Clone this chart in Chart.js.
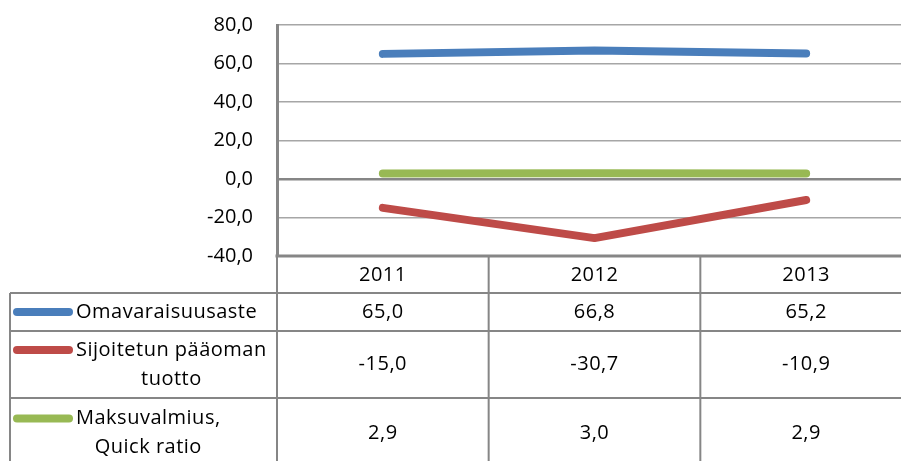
<!DOCTYPE html>
<html>
<head>
<meta charset="utf-8">
<script src="https://cdn.jsdelivr.net/npm/chart.js@4"></script>
<style>
  html, body { margin: 0; padding: 0; background: #fff; overflow: hidden; }
  #wrap { width: 901px; height: 461px; overflow: hidden; }
</style>
</head>
<body>
<div id="wrap"><canvas id="chart" width="912" height="461"></canvas></div>
<script>
// Data
const years = ['2011', '2012', '2013'];
const omavaraisuusaste = [65.0, 66.8, 65.2];
const sijoitetunTuotto = [-15.0, -30.7, -10.9];
const maksuvalmius = [2.9, 3.0, 2.9];
const seriesNames = [
  ['Omavaraisuusaste'],
  ['Sijoitetun pääoman', 'tuotto'],
  ['Maksuvalmius,', 'Quick ratio']
];
const yTicks = [-40, -20, 0, 20, 40, 60, 80];

const COLORS = {
  blue: '#4a7ebb',
  red: '#be4b48',
  green: '#98b954',
  axis: '#868686',
  grid: '#a6a6a6',
  text: '#000000'
};
const FONT = '"Open Sans", sans-serif';

const fmt = v => v.toFixed(1).replace('.', ',');

// row layout of the data table under the plot (heights in px)
const ROW_HEADER = 37;
const ROW_HEIGHTS = [38, 67, 70];
const TABLE_LEFT = 10;

const seriesList = [
  { name: seriesNames[0], data: omavaraisuusaste, color: COLORS.blue },
  { name: seriesNames[1], data: sijoitetunTuotto, color: COLORS.red },
  { name: seriesNames[2], data: maksuvalmius, color: COLORS.green }
];

const dataTable = {
  id: 'dataTable',
  afterDraw(chart) {
    const ctx = chart.ctx;
    const area = chart.chartArea;
    const xs = chart.scales.x;
    const bottom = chart.height + 10;
    const centers = years.map((_, i) => xs.getPixelForValue(i));
    const bounds = [area.left];
    for (let i = 0; i < centers.length - 1; i++) bounds.push((centers[i] + centers[i + 1]) / 2);

    ctx.save();
    ctx.strokeStyle = COLORS.axis;
    ctx.lineWidth = 2;

    // horizontal rules
    let y = area.bottom + ROW_HEADER;
    const rowTops = [y];
    ctx.beginPath();
    ctx.moveTo(TABLE_LEFT, y); ctx.lineTo(area.right, y);
    ROW_HEIGHTS.forEach(h => {
      y += h;
      rowTops.push(y);
      ctx.moveTo(TABLE_LEFT, y); ctx.lineTo(area.right, y);
    });
    // vertical rules
    bounds.forEach(bx => { ctx.moveTo(bx, area.bottom); ctx.lineTo(bx, bottom); });
    ctx.moveTo(TABLE_LEFT, area.bottom + ROW_HEADER); ctx.lineTo(TABLE_LEFT, bottom);
    ctx.stroke();

    // bottom axis line (thick)
    ctx.lineWidth = 3;
    ctx.beginPath();
    ctx.moveTo(area.left - 1.5, area.bottom); ctx.lineTo(area.right, area.bottom);
    ctx.stroke();

    ctx.fillStyle = COLORS.text;
    ctx.font = '20px ' + FONT;
    ctx.letterSpacing = '0.5px';
    ctx.textAlign = 'center';
    ctx.textBaseline = 'middle';

    // header years
    years.forEach((yr, i) => ctx.fillText(yr, centers[i], area.bottom + ROW_HEADER / 2 + 1));

    seriesList.forEach((s, r) => {
      const top = rowTops[r];
      const h = ROW_HEIGHTS[r];
      const lineH = 29;
      const nLines = s.name.length;
      const firstY = top + h / 2 - (nLines - 1) * lineH / 2;

      // legend key
      ctx.strokeStyle = s.color;
      ctx.lineWidth = 8;
      ctx.lineCap = 'round';
      ctx.beginPath();
      ctx.moveTo(17, firstY); ctx.lineTo(69, firstY);
      ctx.stroke();

      // series name, lines centred on the widest one
      const widths = s.name.map(t => ctx.measureText(t).width);
      const cx = 76 + Math.max(...widths) / 2;
      s.name.forEach((t, k) => ctx.fillText(t, cx, firstY + k * lineH));

      // values
      s.data.forEach((v, i) => ctx.fillText(fmt(v), centers[i], top + h / 2));
    });
    ctx.restore();
  }
};

new Chart(document.getElementById('chart'), {
  type: 'line',
  data: {
    labels: years,
    datasets: seriesList.map(s => ({
      label: s.name.join(' '),
      data: s.data,
      borderColor: s.color,
      backgroundColor: s.color,
      borderWidth: 8,
      borderCapStyle: 'round',
      borderJoinStyle: 'round',
      pointRadius: 0,
      tension: 0
    }))
  },
  options: {
    responsive: false,
    animation: false,
    events: [],
    layout: { padding: { top: 25, bottom: 205, left: 0, right: 0 } },
    plugins: { legend: { display: false }, tooltip: { enabled: false } },
    scales: {
      x: {
        display: false,
        offset: true
      },
      y: {
        min: -40,
        max: 80,
        afterBuildTicks: scale => { scale.ticks = yTicks.map(v => ({ value: v })); },
        afterFit: scale => {
          scale.width = 277;
          scale.paddingTop = 0;
          scale.paddingBottom = 0;
        },
        border: { display: true, color: COLORS.axis, width: 3 },
        grid: {
          drawTicks: false,
          color: ctx => ctx.tick && ctx.tick.value === 0 ? COLORS.axis : COLORS.grid,
          lineWidth: ctx => ctx.tick && ctx.tick.value === 0 ? 2.5 : 1.5
        },
        ticks: {
          padding: 24,
          color: COLORS.text,
          font: { family: FONT, size: 20 },
          callback: v => fmt(v)
        }
      }
    }
  },
  plugins: [dataTable]
});
</script>
</body>
</html>
